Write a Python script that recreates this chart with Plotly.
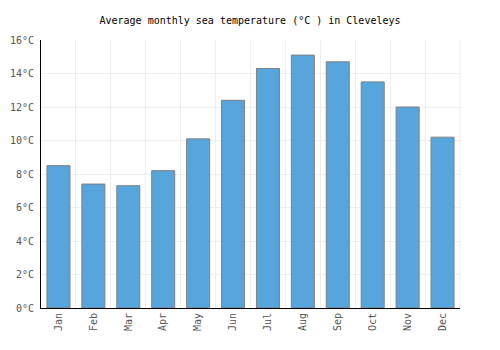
import plotly.graph_objects as go

months = ["Jan", "Feb", "Mar", "Apr", "May", "Jun", "Jul", "Aug", "Sep", "Oct", "Nov", "Dec"]
sea_temp = [8.5, 7.4, 7.3, 8.2, 10.1, 12.4, 14.3, 15.1, 14.7, 13.5, 12.0, 10.2]
y_ticks = [0, 2, 4, 6, 8, 10, 12, 14, 16]
y_tick_labels = [f"{v}°C" for v in y_ticks]

font_family = "DejaVu Sans Mono"

fig = go.Figure()
fig.add_trace(go.Bar(
    x=months,
    y=sea_temp,
    marker=dict(color="#57a5dd", line=dict(color="#808080", width=1)),
    hoverinfo="x+y",
))

# right-edge grid line of the plot area
fig.add_shape(type="line", xref="paper", yref="paper", x0=1, x1=1, y0=0, y1=1,
              line=dict(color="#eeeeee", width=1), layer="below")

fig.update_layout(
    width=500,
    height=350,
    margin=dict(l=41, r=40, t=40, b=42),
    paper_bgcolor="white",
    plot_bgcolor="white",
    bargap=0.34,
    showlegend=False,
    title=dict(
        text="Average monthly sea temperature (°C ) in Cleveleys",
        x=0.5, xanchor="center",
        y=1 - 20 / 350, yanchor="middle", yref="container",
        font=dict(family=font_family, size=10, color="#000"),
    ),
    xaxis=dict(
        type="category",
        tickson="boundaries",
        showgrid=True,
        gridcolor="#eeeeee",
        gridwidth=1,
        showline=True,
        linecolor="#000",
        linewidth=1,
        ticks="",
        tickangle=-90,
        automargin=False,
        tickfont=dict(family=font_family, size=10, color="#555"),
        fixedrange=True,
    ),
    yaxis=dict(
        range=[0, 16],
        tickvals=y_ticks,
        ticktext=y_tick_labels,
        showgrid=True,
        gridcolor="#eeeeee",
        gridwidth=1,
        showline=True,
        linecolor="#000",
        linewidth=1,
        ticks="",
        ticklabelstandoff=4,
        automargin=False,
        zeroline=False,
        tickfont=dict(family=font_family, size=10, color="#555"),
        fixedrange=True,
    ),
)

fig.write_html("out.html")
